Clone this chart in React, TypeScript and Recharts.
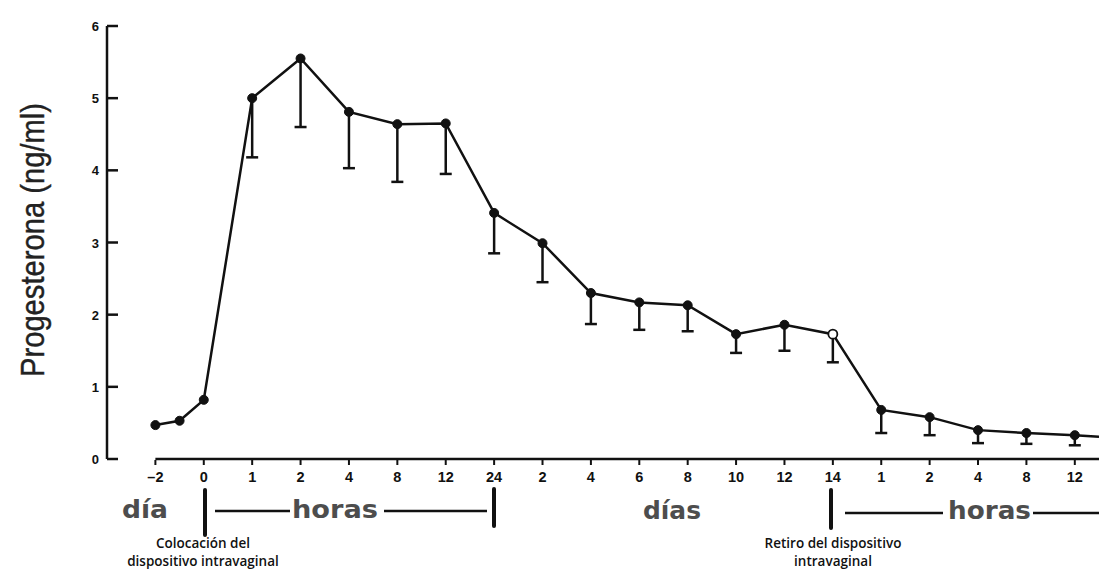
import { ErrorBar, Line, LineChart, ReferenceLine, XAxis, YAxis } from "recharts";

// position on the x axis (index of the labelled tick; day -1 sits half way between -2 and 0)
const positions = [0, 0.5, 1, 2, 3, 4, 5, 6, 7, 8, 9, 10, 11, 12, 13, 14, 15, 16, 17, 18, 19, 19.5];
const progesterone = [
  0.47, 0.53, 0.82, 5.0, 5.55, 4.81, 4.64, 4.65, 3.41, 2.99, 2.3, 2.17, 2.13, 1.73, 1.86, 1.73,
  0.68, 0.58, 0.4, 0.36, 0.33, 0.31,
];
const lowerBound = [
  null, null, null, 4.18, 4.6, 4.03, 3.84, 3.95, 2.85, 2.45, 1.87, 1.79, 1.77, 1.47, 1.5, 1.34,
  0.36, 0.33, 0.22, 0.21, 0.19, null,
];
const tickLabels = ["–2", "0", "1", "2", "4", "8", "12", "24", "2", "4", "6", "8", "10", "12", "14", "1", "2", "4", "8", "12"];
const yTicks = [0, 1, 2, 3, 4, 5, 6];
const openIndex = 15; // withdrawal of the device
const hiddenIndex = 21; // line running off the edge

const data = positions.map((pos, i) => ({
  pos,
  value: progesterone[i],
  lo: lowerBound[i],
  err: lowerBound[i] == null ? [0, 0] : [progesterone[i] - (lowerBound[i] as number), 0],
  idx: i,
}));

const INK = "#111";

const XTick = (props: any) => {
  const { x, y, payload } = props;
  return (
    <g>
      <line x1={x} x2={x} y1={y + 1} y2={y + 6} stroke={INK} strokeWidth={2} />
      <text x={x} y={y + 23} textAnchor="middle" fontFamily="Liberation Sans, Arial" fontWeight="bold" fontSize={14.5} fill={INK}>
        {tickLabels[payload.value]}
      </text>
    </g>
  );
};

const YTick = (props: any) => {
  const { x, y, payload } = props;
  return (
    <g>
      <line x1={x} x2={x + 11} y1={y} y2={y} stroke={INK} strokeWidth={2.5} />
      <text x={x - 8} y={y + 5} textAnchor="end" fontFamily="Liberation Sans, Arial" fontWeight="bold" fontSize={13} fill={INK}>
        {payload.value}
      </text>
    </g>
  );
};

const MainDot = (props: any) => {
  const { cx, cy, payload } = props;
  if (cx == null || cy == null || payload.idx === hiddenIndex) return <g key={props.key} />;
  const open = payload.idx === openIndex;
  return (
    <circle key={props.key} cx={cx} cy={cy} r={4.5} fill={open ? "#fff" : INK} stroke={INK} strokeWidth={open ? 1.8 : 1} />
  );
};

const CapDot = (props: any) => {
  const { cx, cy } = props;
  if (cx == null || cy == null || Number.isNaN(cy)) return <g key={props.key} />;
  return <line key={props.key} x1={cx - 6} x2={cx + 6} y1={cy} y2={cy} stroke={INK} strokeWidth={2.5} />;
};

const bracketText = { fontFamily: "DejaVu Sans, Liberation Sans", fontWeight: "bold" as const, fontSize: 25, fill: "#4d4d4d" };
const noteText = { fontFamily: "Open Sans, Noto Sans", fontWeight: 600, fontSize: 13.5, fill: "#111" };

export default function App() {
  return (
    <div style={{ position: "absolute", left: 0, top: 0, width: 1099, height: 572, background: "#fff" }}>
      <LineChart width={1099} height={572} data={data} margin={{ top: 26, right: 0, bottom: 0, left: 0 }}>
        <XAxis
          dataKey="pos"
          type="number"
          domain={[-1, 19.5]}
          ticks={tickLabels.map((_, i) => i)}
          height={113}
          axisLine={false}
          tickLine={false}
          tickSize={0}
          tickMargin={0}
          tick={<XTick />}
          allowDataOverflow
        />
        <YAxis
          type="number"
          domain={[0, 6]}
          ticks={yTicks}
          width={107}
          axisLine={{ stroke: INK, strokeWidth: 2.5 }}
          tickLine={false}
          tickSize={0}
          tickMargin={0}
          tick={<YTick />}
          label={{
            content: () => (
              <text
                transform="translate(44,240) rotate(-90)"
                textAnchor="middle"
                fontFamily="Liberation Sans Narrow, Liberation Sans, Arial"
                fontSize={33}
                textLength={274}
                lengthAdjust="spacingAndGlyphs"
                fill="#222"
                stroke="#222"
                strokeWidth={0.4}
              >
                Progesterona (ng/ml)
              </text>
            ),
          }}
        />
        <ReferenceLine
          segment={[{ x: 0, y: 0 }, { x: 19.5, y: 0 }]}
          stroke={INK}
          strokeWidth={2.5}
          ifOverflow="visible"
        />
        <Line
          dataKey="lo"
          stroke="none"
          dot={<CapDot />}
          activeDot={false}
          isAnimationActive={false}
          legendType="none"
        />
        <Line
          dataKey="value"
          stroke={INK}
          strokeWidth={2.5}
          dot={<MainDot />}
          activeDot={false}
          isAnimationActive={false}
        >
          <ErrorBar dataKey="err" direction="y" width={0} stroke={INK} strokeWidth={2.5} />
        </Line>
      </LineChart>
      <svg width={1099} height={572} style={{ position: "absolute", left: 0, top: 0, pointerEvents: "none" }}>
        <text x={122} y={518} {...bracketText} textLength={46} lengthAdjust="spacingAndGlyphs">día</text>
        <line x1={205} x2={205} y1={490} y2={535} stroke={INK} strokeWidth={4} strokeLinecap="round" />
        <line x1={215} x2={290} y1={511} y2={511} stroke={INK} strokeWidth={2.5} />
        <text x={292} y={518} {...bracketText} textLength={86} lengthAdjust="spacingAndGlyphs">horas</text>
        <line x1={384} x2={487} y1={511} y2={511} stroke={INK} strokeWidth={2.5} />
        <line x1={494} x2={494} y1={489} y2={526} stroke={INK} strokeWidth={4} strokeLinecap="round" />
        <text x={643} y={519} {...bracketText} textLength={58} lengthAdjust="spacingAndGlyphs">días</text>
        <line x1={831} x2={831} y1={490} y2={528} stroke={INK} strokeWidth={4} strokeLinecap="round" />
        <line x1={845} x2={943} y1={513} y2={513} stroke={INK} strokeWidth={2.5} />
        <text x={948} y={519} {...bracketText} textLength={83} lengthAdjust="spacingAndGlyphs">horas</text>
        <line x1={1033} x2={1099} y1={513} y2={513} stroke={INK} strokeWidth={2.5} />
        <text x={203} y={548} textAnchor="middle" {...noteText}>Colocación del</text>
        <text x={203} y={566} textAnchor="middle" {...noteText}>dispositivo intravaginal</text>
        <text x={833} y={548} textAnchor="middle" {...noteText}>Retiro del dispositivo</text>
        <text x={833} y={566} textAnchor="middle" {...noteText}>intravaginal</text>
      </svg>
    </div>
  );
}
